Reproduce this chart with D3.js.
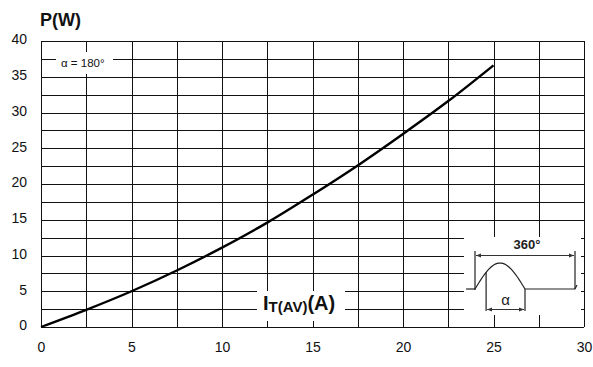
<!DOCTYPE html>
<html>
<head>
<meta charset="utf-8">
<script src="https://cdn.jsdelivr.net/npm/d3@7"></script>
<style>
  html, body { margin: 0; padding: 0; background: #fff; }
  svg { display: block; font-family: "Liberation Sans", Arial, sans-serif; }
</style>
</head>
<body>
<svg id="chart" width="593" height="367"></svg>
<script>
// Average on-state current (A) and dissipated power (W), conduction angle 180°
const currentA = [0, 2.5, 5, 7.5, 10, 12.5, 15, 17.5, 20, 22.5, 25];
const powerW   = [0, 2.4, 5, 7.9, 11.1, 14.6, 18.5, 22.6, 27, 31.6, 36.6];

const xTickValues = [0, 5, 10, 15, 20, 25, 30];
const yTickValues = [0, 5, 10, 15, 20, 25, 30, 35, 40];
const xGridValues = [0, 2.5, 5, 7.5, 10, 12.5, 15, 17.5, 20, 22.5, 25, 27.5, 30];
const yGridValues = [0, 2.5, 5, 7.5, 10, 12.5, 15, 17.5, 20, 22.5, 25, 27.5, 30, 32.5, 35, 37.5, 40];

const svg = d3.select("#chart");
const plot = { left: 41, right: 584, top: 41, bottom: 327 };

const x = d3.scaleLinear().domain([0, 30]).range([plot.left, plot.right]);
const y = d3.scaleLinear().domain([0, 40]).range([plot.bottom, plot.top]);

// Grid
const grid = svg.append("g").attr("stroke", "#111").attr("stroke-width", 1).attr("shape-rendering", "crispEdges");
grid.selectAll("line.v").data(xGridValues).join("line")
  .attr("x1", d => Math.round(x(d)) + 0.5).attr("x2", d => Math.round(x(d)) + 0.5)
  .attr("y1", plot.top).attr("y2", plot.bottom);
grid.selectAll("line.h").data(yGridValues).join("line")
  .attr("y1", d => Math.round(y(d)) + 0.5).attr("y2", d => Math.round(y(d)) + 0.5)
  .attr("x1", plot.left).attr("x2", plot.right);

// Axis labels
const xAxis = svg.append("g").attr("transform", `translate(0,${plot.bottom})`)
  .call(d3.axisBottom(x).tickValues(xTickValues).tickSize(0).tickPadding(15).tickFormat(d3.format("d")));
const yAxis = svg.append("g").attr("transform", `translate(${plot.left},0)`)
  .call(d3.axisLeft(y).tickValues(yTickValues).tickSize(0).tickPadding(14).tickFormat(d3.format("d")));
[xAxis, yAxis].forEach(a => {
  a.select(".domain").remove();
  a.selectAll("text").attr("font-size", 14).attr("fill", "#111")
    .attr("font-family", "Liberation Sans, Arial, sans-serif");
});
yAxis.selectAll("text").attr("dy", "0.2em");

// Curve
const line = d3.line().x(d => x(d[0])).y(d => y(d[1])).curve(d3.curveCatmullRom);
svg.append("path")
  .datum(currentA.map((c, i) => [c, powerW[i]]))
  .attr("d", line)
  .attr("fill", "none").attr("stroke", "#000").attr("stroke-width", 2.4);

// Y title
svg.append("text").attr("x", 40).attr("y", 26)
  .attr("font-size", 18).attr("font-weight", "bold").attr("fill", "#111").text("P(W)");

// Conduction angle note
svg.append("rect").attr("x", 56).attr("y", 52).attr("width", 57).attr("height", 22).attr("fill", "#fff");
svg.append("text").attr("x", 61).attr("y", 67)
  .attr("font-size", 11.5).attr("fill", "#111").text("α = 180°");

// X title
svg.append("rect").attr("x", 257).attr("y", 291).attr("width", 88).attr("height", 30).attr("fill", "#fff");
const xt = svg.append("text").attr("x", 263).attr("y", 310)
  .attr("font-weight", "bold").attr("fill", "#111").attr("font-size", 20);
xt.append("tspan").text("I");
xt.append("tspan").attr("font-size", 15).attr("dy", 2).text("T(AV)");
xt.append("tspan").attr("dy", -2).text("(A)");

// Waveform inset
const inset = svg.append("g");
inset.append("rect").attr("x", 464).attr("y", 237).attr("width", 117).attr("height", 78).attr("fill", "#fff");

const defs = svg.append("defs");
defs.append("marker").attr("id", "arr").attr("viewBox", "0 0 10 10")
  .attr("refX", 10).attr("refY", 5).attr("markerWidth", 5).attr("markerHeight", 5)
  .attr("orient", "auto-start-reverse").attr("markerUnits", "userSpaceOnUse")
  .append("path").attr("d", "M0,1 L10,5 L0,9 Z").attr("fill", "#333");

// phase (degrees) -> px, amplitude (0..1) -> px
const ph = d3.scaleLinear().domain([0, 360]).range([475, 575]);
const am = d3.scaleLinear().domain([0, 1]).range([289, 263]);
const wave = d3.line().x(d => ph(d[0])).y(d => am(d[1]));
const halfWave = d3.range(0, 181, 5).map(t => [t, Math.sin(t * Math.PI / 180)]);
const ws = { fill: "none", stroke: "#222", "stroke-width": 1.2 };
function styl(sel) { Object.entries(ws).forEach(([k, v]) => sel.attr(k, v)); return sel; }

styl(inset.append("path").attr("d", wave([[-32, 0], [0, 0]])));
styl(inset.append("path").attr("d", wave(halfWave)));
styl(inset.append("path").attr("d", wave([[180, 0], [360, 0], [367, 0.15]])));

// 360° span
styl(inset.append("line").attr("x1", ph(0)).attr("x2", ph(0)).attr("y1", 251).attr("y2", 290));
styl(inset.append("line").attr("x1", ph(360)).attr("x2", ph(360)).attr("y1", 251).attr("y2", 289));
inset.append("line").attr("x1", ph(0) + 1).attr("x2", ph(360) - 1).attr("y1", 255.5).attr("y2", 255.5)
  .attr("stroke", "#333").attr("stroke-width", 1)
  .attr("marker-start", "url(#arr)").attr("marker-end", "url(#arr)");
inset.append("text").attr("x", 527).attr("y", 249).attr("text-anchor", "middle")
  .attr("font-size", 13).attr("font-weight", "bold").attr("fill", "#222").text("360°");

// α span
const aStart = 40;
styl(inset.append("line").attr("x1", ph(aStart)).attr("x2", ph(aStart))
  .attr("y1", am(Math.sin(aStart * Math.PI / 180))).attr("y2", 311));
styl(inset.append("line").attr("x1", ph(180)).attr("x2", ph(180)).attr("y1", 289).attr("y2", 311));
inset.append("line").attr("x1", ph(aStart) + 1).attr("x2", ph(180) - 1).attr("y1", 309.5).attr("y2", 309.5)
  .attr("stroke", "#333").attr("stroke-width", 1)
  .attr("marker-start", "url(#arr)").attr("marker-end", "url(#arr)");
inset.append("text").attr("x", (ph(aStart) + ph(180)) / 2).attr("y", 305).attr("text-anchor", "middle")
  .attr("font-size", 15).attr("fill", "#222").text("α");
</script>
</body>
</html>
